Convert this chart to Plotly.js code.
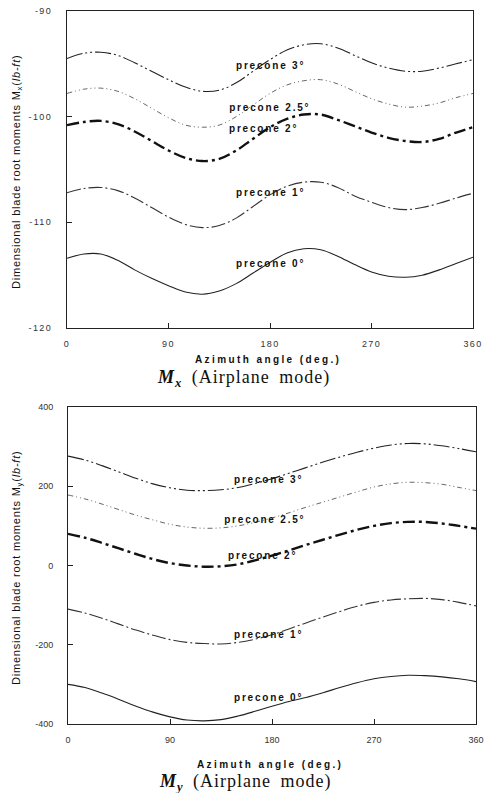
<!DOCTYPE html>
<html><head><meta charset="utf-8">
<script src="https://cdn.plot.ly/plotly-3.0.1.min.js"></script>
<style>html,body{margin:0;padding:0;background:#fff}#chart{width:491px;height:793px}</style>
</head><body><div id="chart"></div>
<script>
// Azimuth angle (deg.)
const azimuth = [0,15,30,45,60,75,90,105,120,135,150,165,180,195,210,225,240,255,270,285,300,315,330,345,360];

// Mx (Airplane mode), lb-ft
const mx_p0  = [-113.4,-113.0,-113.0,-113.6,-114.5,-115.3,-116.0,-116.6,-116.8,-116.5,-115.8,-114.8,-113.8,-112.9,-112.5,-112.6,-113.2,-114.0,-114.7,-115.1,-115.2,-115.0,-114.5,-113.9,-113.3];
const mx_p1  = [-107.2,-106.8,-106.7,-107.0,-107.7,-108.6,-109.5,-110.2,-110.5,-110.3,-109.6,-108.5,-107.4,-106.6,-106.2,-106.2,-106.7,-107.5,-108.1,-108.6,-108.8,-108.6,-108.2,-107.7,-107.25];
const mx_p2  = [-100.8,-100.5,-100.4,-100.7,-101.4,-102.3,-103.2,-103.9,-104.2,-104.0,-103.2,-102.1,-101.0,-100.2,-99.8,-99.8,-100.3,-100.9,-101.5,-102.0,-102.3,-102.4,-102.1,-101.5,-101.0];
const mx_p25 = [-97.8,-97.4,-97.3,-97.6,-98.3,-99.2,-100.1,-100.8,-101.0,-100.8,-100.0,-98.9,-97.8,-97.0,-96.6,-96.5,-96.9,-97.6,-98.3,-98.8,-99.1,-99.0,-98.7,-98.2,-97.8];
const mx_p3  = [-94.5,-94.0,-93.9,-94.2,-94.9,-95.7,-96.5,-97.2,-97.6,-97.5,-96.8,-95.7,-94.6,-93.7,-93.2,-93.1,-93.5,-94.2,-94.9,-95.4,-95.7,-95.7,-95.4,-95.0,-94.6];

// My (Airplane mode), lb-ft
const my_p0  = [-300,-308,-322,-338,-355,-370,-382,-390,-392,-389,-380,-368,-355,-343,-333,-321,-308,-296,-286,-280,-277,-278,-281,-286,-293];
const my_p1  = [-110,-120,-133,-148,-163,-176,-187,-194,-197,-198,-194,-186,-175,-160,-145,-130,-116,-103,-93,-87,-84,-83,-86,-93,-102];
const my_p2  = [80,70,57,43,29,16,6,0,-3,-2,3,13,25,38,52,65,78,90,100,107,110,110,106,100,93];
const my_p25 = [178,168,155,141,127,115,104,97,94,95,100,109,120,133,147,160,173,186,198,206,210,209,205,197,189];
const my_p3  = [276,266,252,236,220,206,196,190,189,191,197,207,219,233,247,261,274,286,296,304,308,307,302,295,287];

const seriesNames = ["precone 0°","precone 1°","precone 2°","precone 2.5°","precone 3°"];
const xTicks = [0,90,180,270,360];
const mxTicks = [-120,-110,-100,-90];
const myTicks = [-400,-200,0,200,400];

// label anchor positions [azimuth, value]
const mxLabelX = [180,180,174,180,180];
const mxLabelY = [-113.9,-107.2,-101.1,-99.1,-95.2];
const myLabelX = [177,177,172,174,177];
const myLabelY = [-332,-173,24,117,216];

const styles = [
  {color:'#222', width:1.1, dash:'solid'},
  {color:'#333', width:1.1, dash:'14px,3px,2px,3px'},
  {color:'#111', width:2.4, dash:'12px,4px,3px,4px'},
  {color:'#555', width:0.9, dash:'5px,3px,1px,3px,1px,3px'},
  {color:'#222', width:1.1, dash:'16px,3px,2px,3px,2px,3px'}
];

const mxData = [mx_p0,mx_p1,mx_p2,mx_p25,mx_p3];
const myData = [my_p0,my_p1,my_p2,my_p25,my_p3];
const traces = [];
mxData.forEach((d,i)=>traces.push({x:azimuth,y:d,type:'scatter',mode:'lines',line:Object.assign({shape:'spline'},styles[i]),name:seriesNames[i],xaxis:'x',yaxis:'y',showlegend:false,hoverinfo:'skip'}));
myData.forEach((d,i)=>traces.push({x:azimuth,y:d,type:'scatter',mode:'lines',line:Object.assign({shape:'spline'},styles[i]),name:seriesNames[i],xaxis:'x2',yaxis:'y2',showlegend:false,hoverinfo:'skip'}));

const tickFont = {family:'Liberation Sans, Arial, sans-serif', size:9, color:'#333'};
function xAxis(dom, anchor){
  return {domain:dom, anchor:anchor, range:[0,360], tickvals:xTicks, ticktext:xTicks.map(String),
    showline:true, mirror:true, linecolor:'#222', linewidth:1, ticks:'inside', ticklen:5, tickcolor:'#222',
    showgrid:false, zeroline:false, tickfont:tickFont, ticklabelstandoff:7, fixedrange:true};
}
function yAxis(dom, anchor, range, tv){
  return {domain:dom, anchor:anchor, range:range, tickvals:tv, ticktext:tv.map(String),
    showline:true, mirror:true, linecolor:'#222', linewidth:1, ticks:'inside', ticklen:5, tickcolor:'#222',
    showgrid:false, zeroline:false, tickfont:tickFont, ticklabelstandoff:12, fixedrange:true};
}

const labelFont = {family:'Liberation Sans, Arial, sans-serif', size:10, color:'#111', weight:'bold'};
const annotations = [];
seriesNames.forEach((n,i)=>{
  annotations.push({x:mxLabelX[i], y:mxLabelY[i], xref:'x', yref:'y', xanchor:'center', yanchor:'middle', text:'<b>'+n+'</b>', showarrow:false, font:labelFont});
  annotations.push({x:myLabelX[i], y:myLabelY[i], xref:'x2', yref:'y2', xanchor:'center', yanchor:'middle', text:'<b>'+n+'</b>', showarrow:false, font:labelFont});
});
const axFont = {family:'Liberation Sans, Arial, sans-serif', size:11, color:'#111'};
const xtFont = {family:'Liberation Sans, Arial, sans-serif', size:10, color:'#111'};
function pa(x,y,text,font,angle){
  return {xref:'paper',yref:'paper',x:x/491,y:1-y/793,xanchor:'center',yanchor:'middle',text:text,showarrow:false,font:font,textangle:angle||0};
}
annotations.push(pa(268,360,'<b>Azimuth angle (deg.)</b>',xtFont));
annotations.push(pa(270,764,'<b>Azimuth angle (deg.)</b>',xtFont));
annotations.push(pa(17,172,'Dimensional blade root moments M<sub>x</sub>(<i>lb-ft</i>)',axFont,-90));
annotations.push(pa(17,568,'Dimensional blade root moments M<sub>y</sub>(<i>lb-ft</i>)',axFont,-90));
const titleFont = {family:'Liberation Serif, Times New Roman, serif', size:18, color:'#111'};
annotations.push(pa(243,379,'<b><i>M<sub>x</sub></i></b> (Airplane mode)',titleFont));
annotations.push(pa(245,782,'<b><i>M<sub>y</sub></i></b> (Airplane mode)',titleFont));

const layout = {
  width:491, height:793, margin:{l:0,r:0,t:0,b:0}, paper_bgcolor:'#fff', plot_bgcolor:'#fff', showlegend:false,
  xaxis: xAxis([67/491,473/491],'y'),
  yaxis: yAxis([1-328/793,1-11/793],'x',[-120,-90],mxTicks),
  xaxis2: xAxis([68/491,476/491],'y2'),
  yaxis2: yAxis([1-724/793,1-407/793],'x2',[-400,400],myTicks),
  annotations: annotations
};
Plotly.newPlot('chart', traces, layout, {staticPlot:true, displayModeBar:false}).then(()=>{
  document.querySelectorAll('.xtick text, .ytick text').forEach(t=>{t.style.letterSpacing='1.4px';});
  document.querySelectorAll('.annotation-text').forEach(t=>{
    const s = t.textContent;
    if (s.indexOf('precone')===0) t.style.letterSpacing='1.8px';
    else if (s.indexOf('Azimuth')===0) t.style.letterSpacing='2.4px';
    else if (s.indexOf('Dimensional')===0) t.style.letterSpacing='0.8px';
    else if (s.indexOf('Airplane')>=0) { t.style.letterSpacing='1px'; t.style.wordSpacing='4px'; }
  });
});
</script>
</body></html>
